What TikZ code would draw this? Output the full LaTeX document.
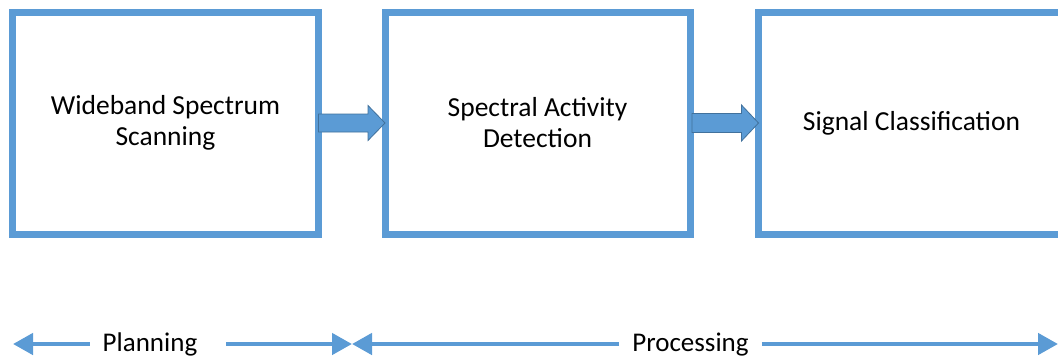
\documentclass[tikz,border=0pt]{standalone}
\usepackage{fontspec}
\setmainfont{Carlito}
\usetikzlibrary{arrows.meta,calc}
\definecolor{boxblue}{HTML}{5B9BD5}
\definecolor{edgeblue}{HTML}{41719C}
\begin{document}
\begin{tikzpicture}[x=1pt,y=-1pt,
  stagebox/.style={draw=boxblue, line width=7pt, outer sep=0pt, inner sep=0pt,
    minimum height=222pt, align=center, font=\fontsize{27.5}{31}\selectfont},
  blockarrow/.style={draw=edgeblue, fill=boxblue, line width=0.8pt, line join=miter},
  spanarrow/.style={draw=boxblue, line width=4.5pt,
    -{Triangle[length=20pt,width=21pt]}},
  spanlabel/.style={inner xsep=13pt, inner ysep=0pt, anchor=base,
    font=\fontsize{27}{31}\selectfont}]
\useasboundingbox (0,0) rectangle (1058,359);
\clip (0,0) rectangle (1058,359);
\node[stagebox, minimum width=306pt] (scan) at (165.5,123) {Wideband Spectrum\\Scanning};
\node[stagebox, minimum width=305pt] (detect) at (537.5,123) {Spectral Activity\\Detection};
\node[stagebox, minimum width=306pt] (classify) at (911.5,123) {Signal Classification};
% block arrows
\draw[blockarrow] ($(scan.east)+(0,-9)$) -- ($(detect.west)+(-17,-9)$)
  -- ($(detect.west)+(-17,-17.5)$) -- (detect.west)
  -- ($(detect.west)+(-17,17.5)$) -- ($(detect.west)+(-17,9)$)
  -- ($(scan.east)+(0,9)$) -- cycle;
\draw[blockarrow] ($(detect.east)+(2,-9.5)$) -- ($(classify.west)+(-17,-9.5)$)
  -- ($(classify.west)+(-17,-18)$) -- (classify.west)
  -- ($(classify.west)+(-17,18)$) -- ($(classify.west)+(-17,9.5)$)
  -- ($(detect.east)+(2,9.5)$) -- cycle;
% span arrows
\node[spanlabel] (plan) at (150,351) {Planning};
\node[spanlabel] (proc) at (690.5,351) {Processing};
\coordinate (planL) at (13,344);
\coordinate (planR) at (352,344);
\coordinate (procL) at (352,344);
\coordinate (procR) at (1058,344);
\draw[spanarrow] (plan.west |- planL) -- (planL);
\draw[spanarrow, shorten <=16pt] (plan.east |- planR) -- (planR);
\draw[spanarrow] (proc.west |- procL) -- (procL);
\draw[spanarrow] (proc.east |- procR) -- (procR);
\end{tikzpicture}
\end{document}
